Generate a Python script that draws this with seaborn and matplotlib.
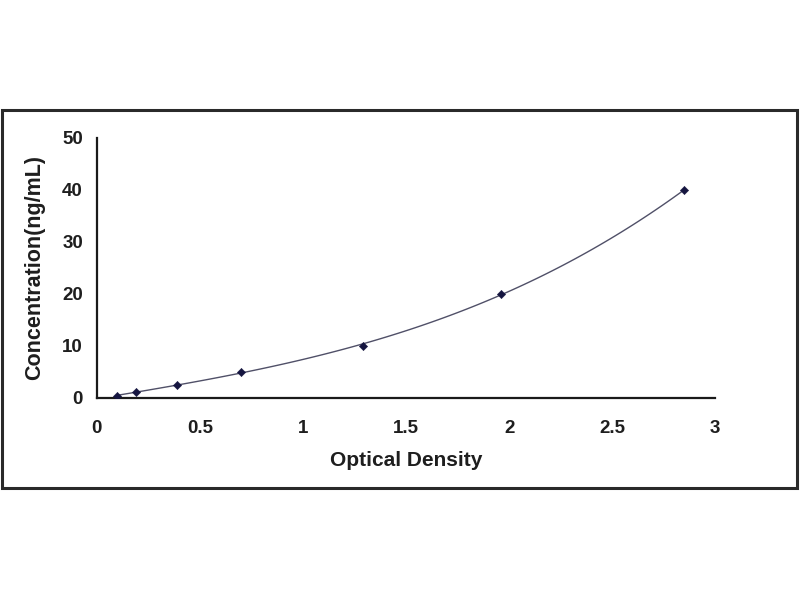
import matplotlib
matplotlib.use("Agg")
import matplotlib.pyplot as plt
import seaborn as sns
import pandas as pd
from matplotlib.patches import Rectangle

# standard curve points
od = [0.10, 0.19, 0.39, 0.70, 1.29, 1.96, 2.85]
conc = [0.3, 1.2, 2.5, 5.0, 10.0, 20.0, 40.0]
x_ticks = [0, 0.5, 1, 1.5, 2, 2.5, 3]
x_tick_labels = ["0", "0.5", "1", "1.5", "2", "2.5", "3"]
y_ticks = [0, 10, 20, 30, 40, 50]

df = pd.DataFrame({"Optical Density": od, "Concentration": conc})

sns.set_style("white")
plt.rcParams["font.family"] = ["Liberation Sans", "DejaVu Sans"]

fig = plt.figure(figsize=(8, 6), dpi=100)
ax = fig.add_axes([0.121, 0.337, 0.773, 0.433])

# fitted curve + points
sns.regplot(data=df, x="Optical Density", y="Concentration", order=3, ci=None,
            ax=ax, scatter=False, line_kws={"color": "#505068", "lw": 1.0})
sns.scatterplot(data=df, x="Optical Density", y="Concentration", ax=ax,
                marker="D", s=18, color="#151540", edgecolor="#151540", zorder=5)

ax.set_xlim(0, 3)
ax.set_ylim(0, 50)
ax.set_xticks(x_ticks)
ax.set_xticklabels(x_tick_labels)
ax.set_yticks(y_ticks)

for s in ["top", "right"]:
    ax.spines[s].set_visible(False)
for s in ["left", "bottom"]:
    ax.spines[s].set_color("#1a1a1a")
    ax.spines[s].set_linewidth(1.6)

ax.tick_params(axis="both", direction="in", length=5, width=1.4, color="#1a1a1a",
               labelsize=13.5, labelcolor="#1e1e1e")
ax.tick_params(axis="x", pad=16)
ax.tick_params(axis="y", pad=10)
for lbl in ax.get_xticklabels() + ax.get_yticklabels():
    lbl.set_fontweight("bold")

ax.set_xlabel("Optical Density", fontsize=15, fontweight="bold", color="#1e1e1e", labelpad=10)
ax.set_ylabel("Concentration(ng/mL)", fontsize=15.5, fontweight="bold", color="#1e1e1e", labelpad=12)

# outer chart-area border
fig.patches.append(Rectangle((0.003, 0.187), 0.993, 0.63, transform=fig.transFigure,
                             fill=False, edgecolor="#2a2a2a", linewidth=2.2))

fig.savefig("out.png", dpi=100)
